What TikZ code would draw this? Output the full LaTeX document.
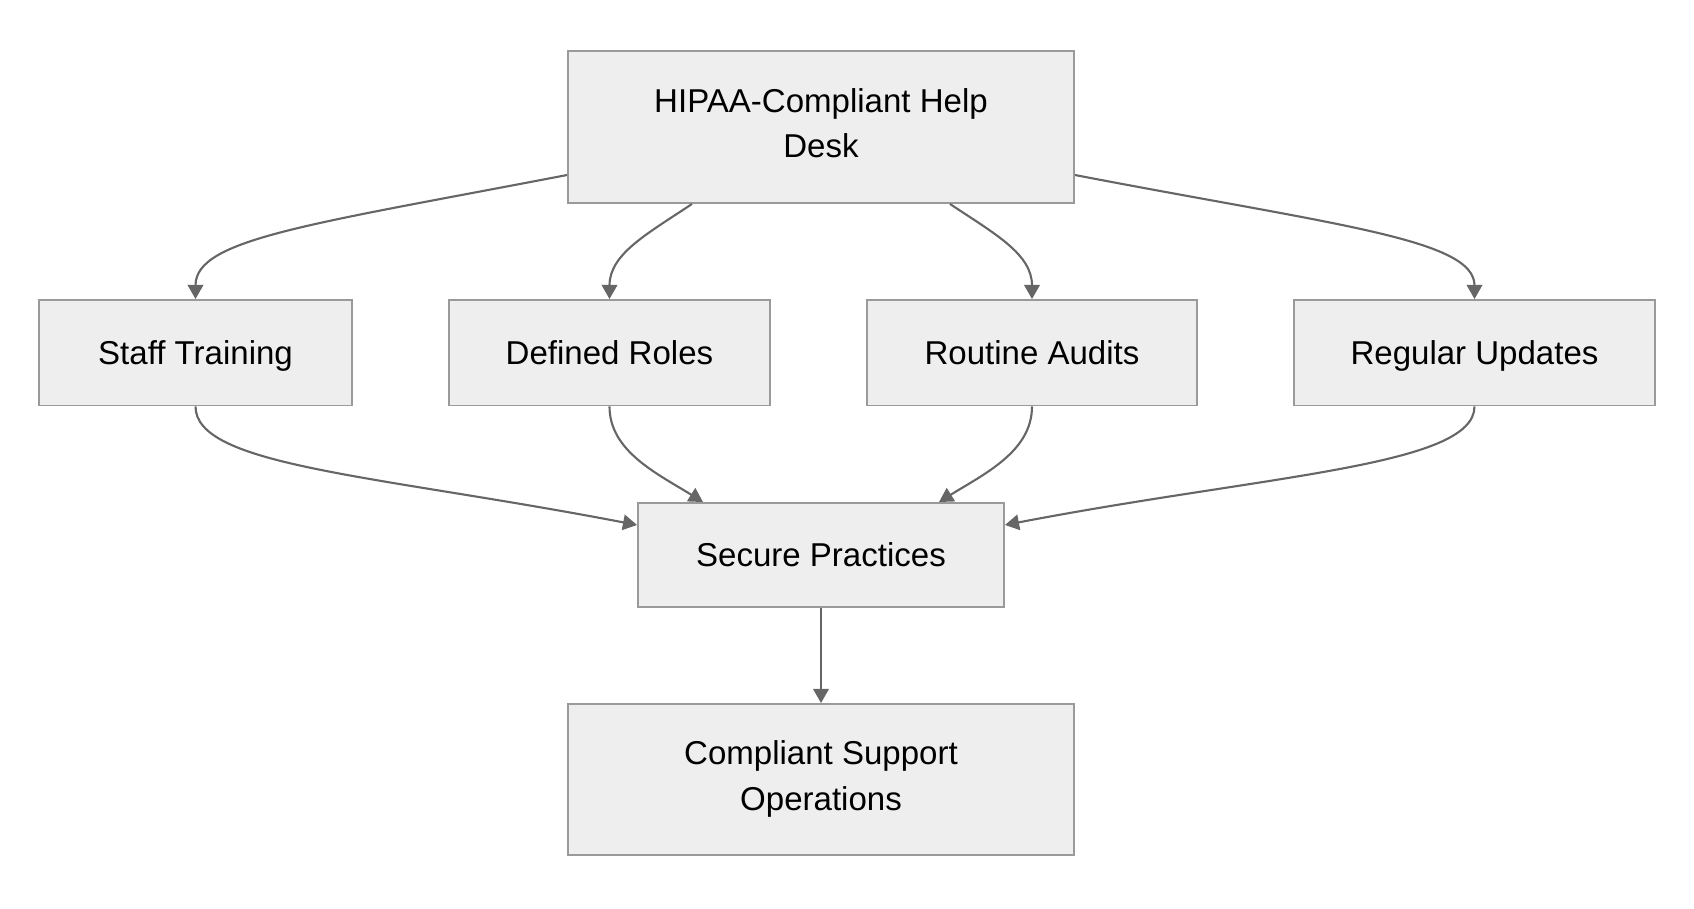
\documentclass[tikz,border=0pt]{standalone}
\usepackage{fontspec}
\setmainfont{Liberation Sans}
\usepackage{xcolor}
\usepackage{tikz}
\usetikzlibrary{arrows.meta,calc}
\definecolor{boxfill}{HTML}{EEEEEE}
\definecolor{boxline}{HTML}{9A9A9A}
\definecolor{linkcol}{HTML}{666666}
\newcommand{\boxstrut}{\rule[-2.3pt]{0pt}{11.3pt}}
\begin{document}
\begin{tikzpicture}[
	box/.style={draw=boxline,fill=boxfill,line width=0.55pt,inner sep=0pt,align=center,font=\fontsize{9.4}{13}\selectfont,
		execute at begin node=\boxstrut,execute at end node=\boxstrut},
	link/.style={draw=linkcol,line width=0.6pt,-{Triangle[length=4pt,width=4.4pt]}}]
		\useasboundingbox (0,0) rectangle (16.94,9.08);
		\node[box,minimum width=5.06cm,minimum height=1.52cm] (desk) at (8.21,7.81) {HIPAA-Compliant Help\\Desk};
		\node[box,minimum width=3.13cm,minimum height=1.055cm] (train) at (1.955,5.5525) {Staff Training};
		\node[box,minimum width=3.21cm,minimum height=1.055cm] (roles) at (6.095,5.5525) {Defined Roles};
		\node[box,minimum width=3.30cm,minimum height=1.055cm] (audits) at (10.32,5.5525) {Routine Audits};
		\node[box,minimum width=3.61cm,minimum height=1.055cm] (updates) at (14.745,5.5525) {Regular Updates};
		\node[box,minimum width=3.66cm,minimum height=1.04cm] (secure) at (8.21,3.53) {Secure Practices};
		\node[box,minimum width=5.06cm,minimum height=1.51cm] (ops) at (8.21,1.285) {Compliant Support\\Operations};
		\draw[link] ([yshift=-4.8mm]desk.west) .. controls +(-2.6,-0.5) and ($(train.north)+(0,0.6)$) .. (train.north);
		\draw[link] ([xshift=-12.9mm]desk.south) .. controls +(-0.45,-0.3) and ($(roles.north)+(0,0.45)$) .. (roles.north);
		\draw[link] ([xshift=12.9mm]desk.south) .. controls +(0.45,-0.3) and ($(audits.north)+(0,0.45)$) .. (audits.north);
		\draw[link] ([yshift=-4.8mm]desk.east) .. controls +(2.6,-0.5) and ($(updates.north)+(0,0.6)$) .. (updates.north);
		\draw[link] (train.south) .. controls +(0,-0.6) and ($([yshift=3mm]secure.west)+(-2.6,0.5)$) .. ([yshift=3mm]secure.west);
		\draw[link] (roles.south) .. controls +(0,-0.45) and ($([xshift=-11.8mm]secure.north)+(-0.45,0.28)$) .. ([xshift=-11.8mm]secure.north);
		\draw[link] (audits.south) .. controls +(0,-0.45) and ($([xshift=11.8mm]secure.north)+(0.45,0.28)$) .. ([xshift=11.8mm]secure.north);
		\draw[link] (updates.south) .. controls +(0,-0.6) and ($([yshift=3mm]secure.east)+(2.6,0.5)$) .. ([yshift=3mm]secure.east);
		\draw[link] (secure.south) -- (ops.north);
	\end{tikzpicture}
\end{document}
